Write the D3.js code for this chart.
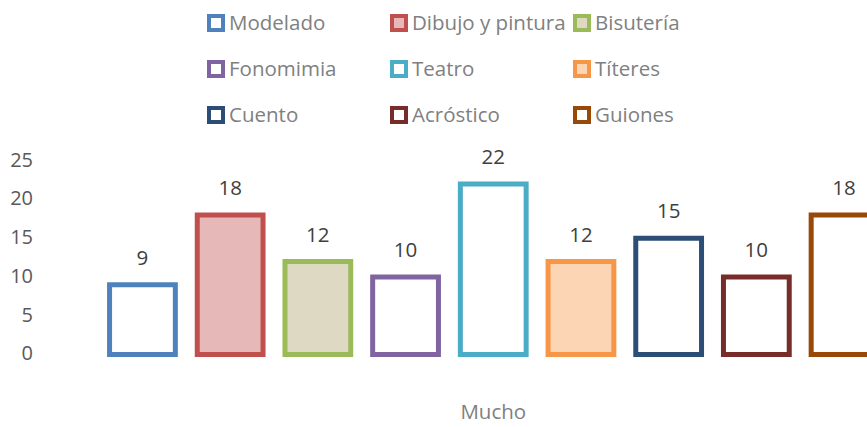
<!DOCTYPE html>
<html><head><meta charset="utf-8">
<script src="https://cdn.jsdelivr.net/npm/d3@7/dist/d3.min.js"></script>
<style>html,body{margin:0;padding:0;background:#fff;overflow:hidden}</style>
</head><body><svg id="c" width="867" height="427"></svg>
<script>
const categories = ["Mucho"];
const seriesNames = ["Modelado","Dibujo y pintura","Bisutería","Fonomimia","Teatro","Títeres","Cuento","Acróstico","Guiones"];
const seriesValues = [9,18,12,10,22,12,15,10,18];
const strokeColors = ["#4f81bd","#c0504d","#9bbb59","#8064a2","#4bacc6","#f79646","#2c4d75","#772c2a","#984807"];
const fillColors = ["#ffffff","#e6b8b7","#ddd9c3","#ffffff","#ffffff","#fcd5b5","#ffffff","#ffffff","#ffffff"];
const yTicks = [0,5,10,15,20,25];

const svg = d3.select("#c");
const font = "'Open Sans', sans-serif";

const y = d3.scaleLinear().domain([0,25]).range([354.5,160.75]);
const x0 = d3.scaleBand().domain(categories).range([98.6, 887.9]);
const x1 = d3.scaleBand().domain(seriesNames).range([0, x0.bandwidth()]).paddingInner(0.25).paddingOuter(0.125);

// y axis labels
const yAxis = d3.axisLeft(y).tickValues(yTicks).tickSize(0).tickPadding(0);
const gy = svg.append("g").attr("transform","translate(33,-1)").call(yAxis);
gy.select(".domain").remove();
gy.selectAll("text").attr("fill","#595959").style("font-family",font).style("font-size","20px");

// bars
const g = svg.append("g").attr("transform",`translate(${x0("Mucho")},0)`);
g.selectAll("rect").data(seriesNames).join("rect")
  .attr("x", d => x1(d))
  .attr("y", (d,i) => y(seriesValues[i]))
  .attr("width", x1.bandwidth())
  .attr("height", (d,i) => y(0) - y(seriesValues[i]))
  .attr("fill", (d,i) => fillColors[i])
  .attr("stroke", (d,i) => strokeColors[i])
  .attr("stroke-width", 5);

g.selectAll("text.lbl").data(seriesNames).join("text").attr("class","lbl")
  .attr("x", d => x1(d) + x1.bandwidth()/2)
  .attr("y", (d,i) => y(seriesValues[i]) - 20)
  .attr("text-anchor","middle")
  .attr("fill","#404040")
  .style("font-family",font).style("font-size","20.5px")
  .text((d,i) => seriesValues[i]);

// category label
const xAxis = d3.axisBottom(x0).tickSize(0).tickPadding(0);
const gx = svg.append("g").attr("transform","translate(0,404)").call(xAxis);
gx.select(".domain").remove();
gx.selectAll("text").attr("fill","#808080").style("font-family",font).style("font-size","20.5px");

// legend
const colX = [207, 390, 573];
const rowY = [23, 69, 115];
const lg = svg.append("g");
seriesNames.forEach((name,i) => {
  const cx = colX[i%3], cy = rowY[Math.floor(i/3)];
  lg.append("rect").attr("x",cx+2).attr("y",cy-7).attr("width",14).attr("height",14)
    .attr("fill",fillColors[i]).attr("stroke",strokeColors[i]).attr("stroke-width",4);
  lg.append("text").attr("x",cx+22).attr("y",cy).attr("dy","0.35em")
    .attr("fill","#808080").style("font-family",font).style("font-size","20.5px").text(name);
});
</script></body></html>
